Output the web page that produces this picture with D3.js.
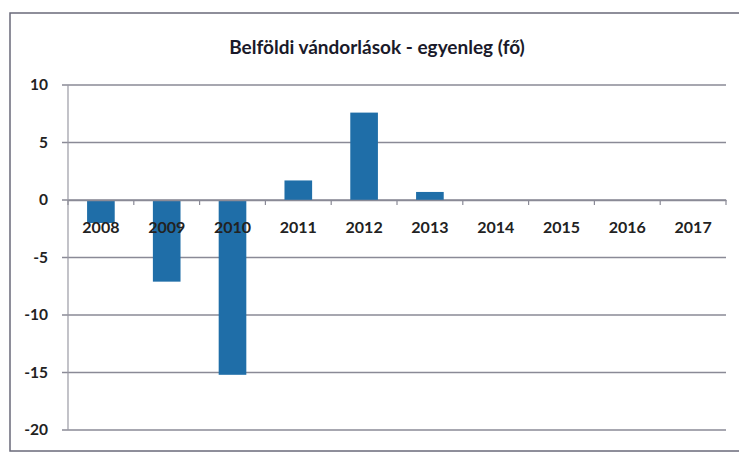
<!DOCTYPE html>
<html><head><meta charset="utf-8">
<script src="https://cdn.jsdelivr.net/npm/d3@7"></script>
<style>body{margin:0;background:#fff}svg{display:block}</style>
</head><body>
<script>
const categories = ["2008","2009","2010","2011","2012","2013","2014","2015","2016","2017"];
const values = [-2.0, -7.1, -15.2, 1.7, 7.6, 0.7, 0, 0, 0, 0];
const yTicks = [10, 5, 0, -5, -10, -15, -20];
const title = "Belföldi vándorlások - egyenleg (fő)";

const W = 739, H = 455;
const m = {left: 68, right: 13, top: 85, bottom: 25};
const svg = d3.select("body").append("svg").attr("width", W).attr("height", H);

svg.append("rect").attr("x", 10).attr("y", 13).attr("width", 740).attr("height", 438)
  .attr("fill", "none").attr("stroke", "#6a6a7a").attr("stroke-width", 1.5);

const x = d3.scaleBand().domain(categories).range([m.left, W - m.right]).paddingInner(0.58).paddingOuter(0.29);
const y = d3.scaleLinear().domain([-20, 10]).range([H - m.bottom, m.top]);

// gridlines
svg.append("g").selectAll("line").data(yTicks).join("line")
  .attr("x1", m.left - 6).attr("x2", W - m.right)
  .attr("y1", d => y(d)).attr("y2", d => y(d))
  .attr("stroke", "#8a8a96").attr("stroke-width", 1.3);

// y axis line
svg.append("line").attr("x1", m.left).attr("x2", m.left).attr("y1", y(10)).attr("y2", y(-20))
  .attr("stroke", "#9a9aa4").attr("stroke-width", 1.2);

// y labels
svg.append("g").selectAll("text").data(yTicks).join("text")
  .attr("x", m.left - 20).attr("y", d => y(d)).attr("dy", "0.35em")
  .attr("text-anchor", "end").attr("font-family", "Lato, 'Open Sans', sans-serif")
  .attr("font-weight", "bold").attr("font-size", 15.5).attr("fill", "#222")
  .text(d => d);

// bars
svg.append("g").selectAll("rect").data(values).join("rect")
  .attr("x", (d, i) => x(categories[i]))
  .attr("width", x.bandwidth())
  .attr("y", d => y(Math.max(0, d)))
  .attr("height", d => Math.abs(y(d) - y(0)))
  .attr("fill", "#1f6ea8");

// x axis at zero
const xAxis = d3.axisBottom(x).tickSize(0).tickPadding(22).tickFormat(d => d);
const gx = svg.append("g").attr("transform", `translate(0,${y(0)})`).call(xAxis);
gx.select(".domain").attr("stroke", "#8a8a96").attr("stroke-width", 1.3);
gx.selectAll("text").attr("font-family", "Lato, 'Open Sans', sans-serif")
  .attr("font-weight", "bold").attr("font-size", 16).attr("fill", "#222");
// boundary ticks
const step = x.step();
svg.append("g").selectAll("line").data(d3.range(categories.length + 1)).join("line")
  .attr("x1", i => m.left + i * step).attr("x2", i => m.left + i * step)
  .attr("y1", y(0)).attr("y2", y(0) + 5)
  .attr("stroke", "#8a8a96").attr("stroke-width", 1.2);

svg.append("text").attr("x", 377).attr("y", 54).attr("text-anchor", "middle")
  .attr("font-family", "Lato, 'Open Sans', sans-serif").attr("font-weight", "bold")
  .attr("font-size", 19).attr("fill", "#1a1a2a").text(title);
</script>
</body></html>
